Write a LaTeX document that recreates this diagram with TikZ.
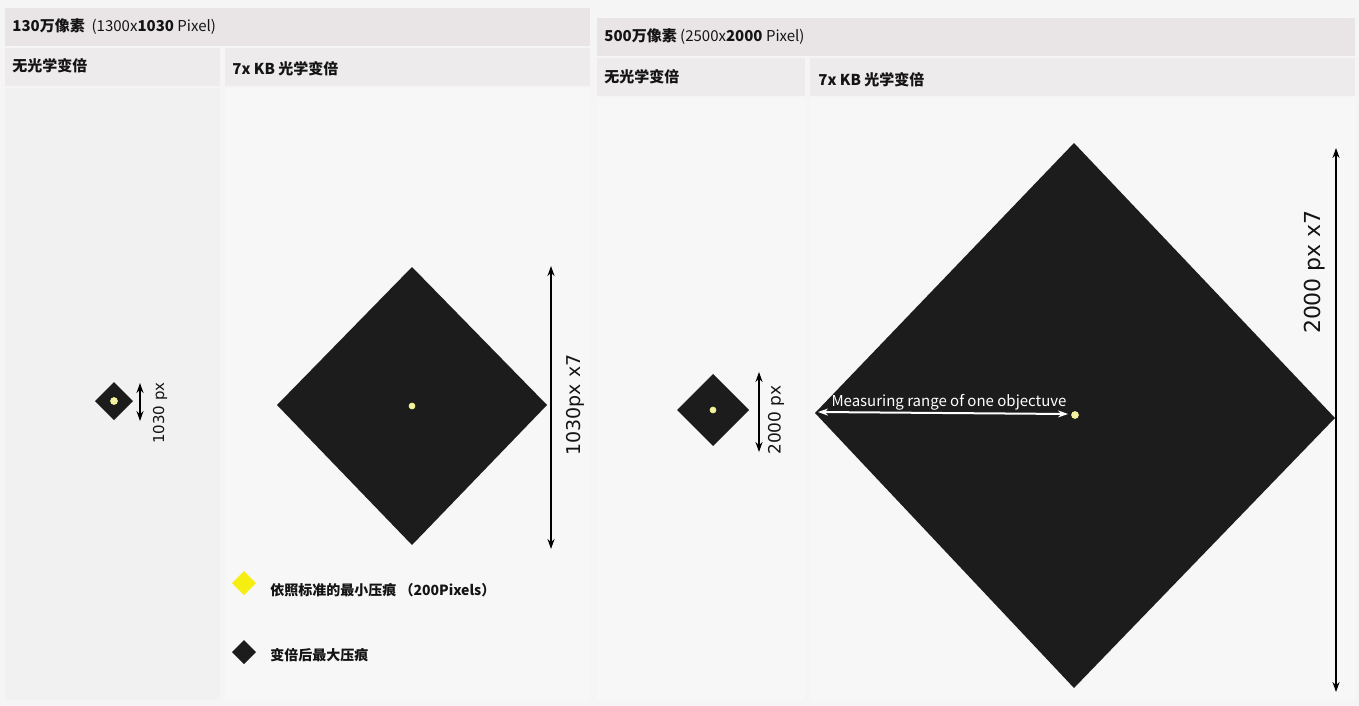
\documentclass[tikz,border=0pt]{standalone}
\usepackage{fontspec}
\setmainfont{Noto Sans CJK SC}
\newfontfamily\dimfont{DejaVu Sans}
\usetikzlibrary{arrows.meta}
\definecolor{bgcol}{HTML}{F6F5F5}
\definecolor{hdrcol}{HTML}{E9E5E7}
\definecolor{subcol}{HTML}{EEEBEC}
\definecolor{pnlcol}{HTML}{F2F1F1}
\definecolor{pnlcolb}{HTML}{F8F7F7}
\definecolor{diacol}{HTML}{1C1C1C}
\definecolor{dotcol}{HTML}{F4F0A8}
\definecolor{legyel}{HTML}{F5EE10}
\definecolor{txtcol}{HTML}{141414}
\begin{document}
\begin{tikzpicture}[x=0.5pt,y=-0.5pt,
  htext/.style={anchor=west, font=\fontsize{7.5}{9}\selectfont, text=txtcol, inner sep=0pt},
  dia/.style={fill=diacol},
  dot/.style={fill=dotcol, draw=dotcol!80!yellow, line width=0.3pt},
  dimline/.style={draw=black, line width=1.1pt, {Stealth[length=5pt,width=3.5pt]}-{Stealth[length=5pt,width=3.5pt]}},
  dimlabel/.style={rotate=90, font=\dimfont, text=txtcol, inner sep=0pt},
  measline/.style={draw=white, line width=1pt, {Stealth[length=5pt,width=3.5pt]}-{Stealth[length=5pt,width=3.5pt]}},
]
\fill[bgcol] (0,0) rectangle (1359,706);
\useasboundingbox (0,0) rectangle (1359,706);
% left block
\fill[hdrcol] (5,8) rectangle (590,46);
\fill[subcol] (5,48) rectangle (220,86);
\fill[subcol] (225,48) rectangle (590,86);
\fill[pnlcol] (5,88) rectangle (220,700);
\fill[pnlcolb] (225,88) rectangle (590,700);
% right block
\fill[hdrcol] (597,18) rectangle (1355,56);
\fill[subcol] (597,58) rectangle (805,96);
\fill[subcol] (810,58) rectangle (1355,96);
\fill[pnlcolb] (597,98) rectangle (805,700);
\fill[pnlcolb] (810,98) rectangle (1355,700);
% header texts
\node[htext] (h1) at (12,27) {\bfseries 130万像素\ \ \mdseries(1300x\bfseries 1030 \mdseries Pixel)};
\node[htext] (s1) at (12,66) {\bfseries 无光学变倍};
\node[htext] (s2) at (232,69) {\bfseries 7x KB 光学变倍};
\node[htext] (h2) at (604,37) {\bfseries 500万像素\ \mdseries(2500x\bfseries 2000 \mdseries Pixel)};
\node[htext] (s3) at (604,77) {\bfseries 无光学变倍};
\node[htext] (s4) at (818,80) {\bfseries 7x KB 光学变倍};
% diamond 1
\coordinate (c1) at (114,401);
\fill[dia] (95,401) -- (114,382) -- (133,401) -- (114,420) -- cycle;
\fill[dot] (c1) circle (3.5);
\coordinate (a1t) at (140,383);
\coordinate (a1b) at (140,421);
\draw[dimline] (a1t) -- (a1b);
\node[dimlabel, font=\dimfont\fontsize{7.5}{9}\selectfont] (l1) at (160,413) {1030 px};
% diamond 2
\coordinate (c2) at (412,406);
\fill[dia] (277,405) -- (412,267) -- (547,405) -- (412,545) -- cycle;
\fill[dot] (c2) circle (3);
\coordinate (a2t) at (551,266);
\coordinate (a2b) at (551,549);
\draw[dimline] (a2t) -- (a2b);
\node[dimlabel, font=\dimfont\fontsize{9.5}{11}\selectfont] (l2) at (575,405) {1030px x7};
% legend
\coordinate (y1) at (244,583);
\fill[legyel] (232,583) -- (244,571) -- (256,583) -- (244,595) -- cycle;
\node[htext, font=\bfseries\fontsize{7}{9}\selectfont] (t1) at (270,590) {依照标准的最小压痕 （200Pixels）};
\coordinate (y2) at (244,652);
\fill[dia] (232,652) -- (244,640) -- (256,652) -- (244,664) -- cycle;
\node[htext, font=\bfseries\fontsize{7}{9}\selectfont] (t2) at (270,655) {变倍后最大压痕};
% diamond 3
\coordinate (c3) at (713,410);
\fill[dia] (677,410) -- (713,374) -- (749,410) -- (713,446) -- cycle;
\fill[dot] (c3) circle (3);
\coordinate (a3t) at (759,372);
\coordinate (a3b) at (759,452);
\draw[dimline] (a3t) -- (a3b);
\node[dimlabel, font=\dimfont\fontsize{8.5}{10}\selectfont] (l3) at (776,420) {2000 px};
% diamond 4
\coordinate (c4) at (1075,415);
\fill[dia] (815,413) -- (1074,143) -- (1335,418) -- (1074,688) -- cycle;
\fill[dot] (c4) circle (3.5);
\coordinate (a4t) at (1336,148);
\coordinate (a4b) at (1336,692);
\draw[dimline] (a4t) -- (a4b);
\node[dimlabel, font=\dimfont\fontsize{11}{13}\selectfont] (l4) at (1315,272) {2000 px x7};
% measuring arrow
\coordinate (m1) at (818,412);
\coordinate (m2) at (1068,414);
\draw[measline] (m1) -- (m2);
\node[font=\fontsize{7.5}{9}\selectfont, text=white, inner sep=0pt] (ml) at (949,402) {Measuring range of one objectuve};
\end{tikzpicture}
\end{document}
